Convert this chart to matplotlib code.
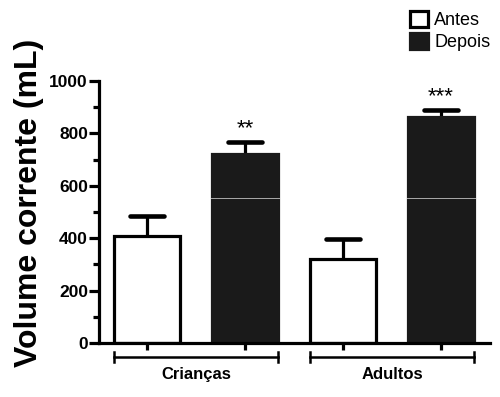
import matplotlib
matplotlib.use("Agg")
import matplotlib.pyplot as plt
from matplotlib.ticker import MultipleLocator
import numpy as np

plt.rcParams["font.family"] = ["Liberation Sans", "DejaVu Sans"]

groups = ["Crianças", "Adultos"]
series = ["Antes", "Depois"]
antes = [408, 320]
antes_err = [77, 77]
depois = [721, 862]
depois_err = [46, 27]
stars = ["**", "***"]
ylabel = "Volume corrente (mL)"

fig = plt.figure(figsize=(5.0, 3.97), dpi=100)
ax = fig.add_axes([0.198, 0.136, 0.782, 0.66])

lw = 2.3
w = 0.68
x_antes = np.array([0, 2])
x_depois = np.array([1, 3])

ax.bar(x_antes, antes, width=w, color="white", edgecolor="black", linewidth=lw,
       label=series[0], zorder=2)
ax.bar(x_depois, depois, width=w, color="#1a1a1a", edgecolor="#1a1a1a", linewidth=lw,
       label=series[1], zorder=2)
for xs, vals, errs in [(x_antes, antes, antes_err), (x_depois, depois, depois_err)]:
    for xi, v, e in zip(xs, vals, errs):
        ax.plot([xi, xi], [v, v + e], color="black", lw=lw, zorder=1, solid_capstyle="butt")
        ax.plot([xi - 0.17, xi + 0.17], [v + e, v + e], color="black", lw=lw + 1.0,
                zorder=1, solid_capstyle="round")

for xi, v, e, s in zip(x_depois, depois, depois_err, stars):
    ax.text(xi, v + e + 12, s, ha="center", va="bottom", fontsize=16)

# faint scan line visible over dark bars
for xi in x_depois:
    ax.plot([xi - w / 2 - 0.01, xi + w / 2 + 0.01], [553, 553], color="#aaaaaa", lw=0.7, zorder=3)

ax.set_xlim(-0.49, 3.5)
ax.set_ylim(0, 1000)
ax.yaxis.set_major_locator(MultipleLocator(200))
ax.yaxis.set_minor_locator(MultipleLocator(100))
ax.set_xticks([0, 1, 2, 3])
ax.set_xticklabels([])
ax.tick_params(axis="y", which="major", length=7, width=lw, labelsize=12.5, pad=1)
ax.tick_params(axis="y", which="minor", length=4, width=lw)
ax.tick_params(axis="x", which="major", length=5, width=lw)
for lab in ax.get_yticklabels():
    lab.set_fontweight("bold")
for sp in ["top", "right"]:
    ax.spines[sp].set_visible(False)
for sp in ["left", "bottom"]:
    ax.spines[sp].set_linewidth(lw)

ax.set_ylabel(ylabel, fontsize=23, fontweight="bold")
ax.yaxis.set_label_coords(-0.14, 0.534)

# group brackets
for gi, g in enumerate(groups):
    x0 = x_antes[gi] - w / 2
    x1 = x_depois[gi] + w / 2
    yb = -53
    ax.plot([x0, x1], [yb, yb], color="black", lw=1.8, clip_on=False)
    ax.plot([x0, x0], [yb - 18, yb + 18], color="black", lw=1.8, clip_on=False)
    ax.plot([x1, x1], [yb - 18, yb + 18], color="black", lw=1.8, clip_on=False)
    ax.text((x0 + x1) / 2, -92, g, ha="center", va="top", fontsize=12, fontweight="bold")

leg = fig.legend(loc="upper left", bbox_to_anchor=(0.805, 0.99), frameon=False,
                 fontsize=13, handlelength=1.0, handleheight=1.0, handletextpad=0.35,
                 labelspacing=0.2, borderaxespad=0)

fig.savefig("out.png", dpi=100)
